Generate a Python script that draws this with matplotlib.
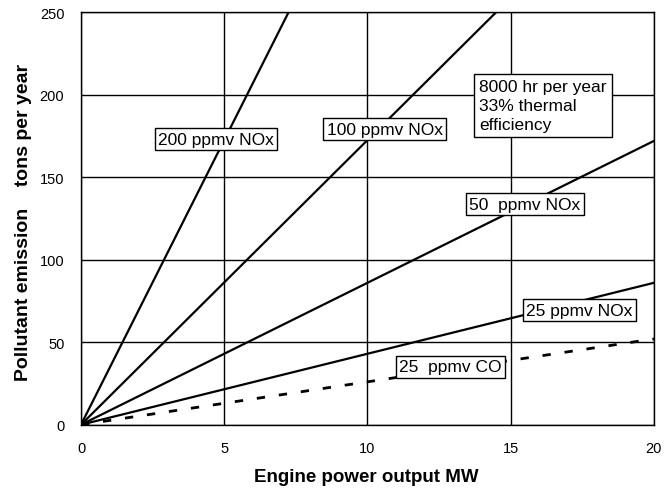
import matplotlib
matplotlib.use("Agg")
import matplotlib.pyplot as plt

plt.rcParams['font.family'] = ['Liberation Sans', 'DejaVu Sans']

power_mw = [0, 20]
nox_200 = [0, 690]
nox_100 = [0, 345]
nox_50 = [0, 172]
nox_25 = [0, 86]
co_25 = [0, 52]

x_ticks = [0, 5, 10, 15, 20]
y_ticks = [0, 50, 100, 150, 200, 250]

labels = [
    ("200 ppmv NOx", 4.71, 173),
    ("100 ppmv NOx", 10.6, 179),
    ("50  ppmv NOx", 15.5, 133.5),
    ("25 ppmv NOx", 17.4, 69.5),
    ("25  ppmv CO", 12.9, 35),
]

W, H = 670, 489
fig = plt.figure(figsize=(6.7, 4.89), dpi=100)
ax = fig.add_axes([0.1209, 0.1294, 0.976 - 0.1209, 0.973 - 0.1294])

for ys in (nox_200, nox_100, nox_50, nox_25):
    ax.plot(power_mw, ys, color='black', lw=1.6, zorder=3)
ax.plot(power_mw, co_25, color='black', lw=2.0, ls=(0, (3, 5)), zorder=3)

ax.set_xlim(0, 20)
ax.set_ylim(0, 250)
ax.set_xticks(x_ticks)
ax.set_yticks(y_ticks)
ax.grid(True, color='black', lw=1.0)
ax.tick_params(length=0, labelsize=10.5, pad=12)
ax.tick_params(axis='y', pad=12)
for s in ax.spines.values():
    s.set_linewidth(1.0)

box = dict(boxstyle='square,pad=0.2', fc='white', ec='black', lw=1.0)
for txt, x, y in labels:
    ax.text(x, y, txt, ha='center', va='center', fontsize=12.5, bbox=box, zorder=5)

ax.text(13.9, 193.5, "8000 hr per year\n33% thermal\nefficiency", ha='left', va='center',
        fontsize=12.5, linespacing=1.35,
        bbox=dict(boxstyle='square,pad=0.3', fc='white', ec='black', lw=1.0), zorder=5)

fig.text(366 / W, 1 - 478 / H, "Engine power output MW", fontsize=13.5, fontweight='bold',
         ha='center', va='center')
fig.text(24 / W, 1 - 222.5 / H, "Pollutant emission    tons per year", fontsize=14, fontweight='bold',
         ha='center', va='center', rotation=90)

fig.savefig("out.png", dpi=100)
